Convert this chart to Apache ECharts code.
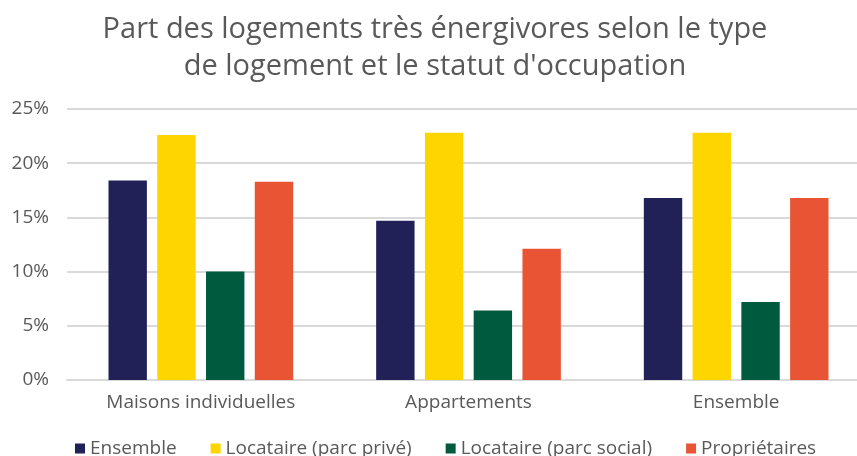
<!DOCTYPE html>
<html>
<head>
<meta charset="utf-8">
<script src="https://cdn.jsdelivr.net/npm/echarts@6/dist/echarts.min.js"></script>
<style>
  html, body { margin: 0; padding: 0; background: #fff; overflow: hidden; }
  #chart { width: 870px; height: 456px; }
</style>
</head>
<body>
<div id="chart"></div>
<script>
const categories = ['Maisons individuelles', 'Appartements', 'Ensemble']
const seriesNames = ['Ensemble', 'Locataire (parc privé)', 'Locataire (parc social)', 'Propriétaires']
const ensemble = [18.4, 14.7, 16.8]
const locatairePrive = [22.6, 22.8, 22.8]
const locataireSocial = [10.0, 6.4, 7.2]
const proprietaires = [18.3, 12.1, 16.8]
const colors = ['#222157', '#FFD500', '#005A3E', '#E95534']

const values = [ensemble, locatairePrive, locataireSocial, proprietaires]
const font = '"Open Sans", sans-serif'
const textColor = '#595959'

// the plot runs past the right edge of the 857px picture, hence the wider div
const chart = echarts.init(document.getElementById('chart'))
chart.setOption({
  animation: false,
  color: colors,
  title: {
    text: 'Part des logements très énergivores selon le type\nde logement et le statut d\'occupation',
    left: 430,
    textAlign: 'center',
    top: 6,
    textStyle: {
      fontFamily: font,
      fontSize: 29,
      fontWeight: 'normal',
      lineHeight: 37,
      color: textColor,
    },
  },
  grid: { left: 67, right: 0, top: 109, bottom: 76 },
  legend: {
    bottom: -7,
    left: 70,
    icon: 'rect',
    itemWidth: 10,
    itemHeight: 10,
    itemGap: 34,
    textStyle: { fontFamily: font, fontSize: 19, color: textColor },
    data: seriesNames,
  },
  xAxis: {
    type: 'category',
    data: categories,
    axisLine: { lineStyle: { color: '#d9d9d9', width: 2 } },
    axisTick: { show: false },
    axisLabel: { fontFamily: font, fontSize: 19, color: textColor, margin: 13 },
  },
  yAxis: {
    type: 'value',
    min: 0,
    max: 25,
    interval: 5,
    axisLine: { show: false },
    axisTick: { show: false },
    splitLine: { lineStyle: { color: '#d9d9d9', width: 2 } },
    axisLabel: { fontFamily: font, fontSize: 19, color: textColor, margin: 18, formatter: '{value}%' },
  },
  series: seriesNames.map((name, i) => ({
    name,
    type: 'bar',
    data: values[i],
    barGap: '27%',
    barCategoryGap: '31%',
  })),
})
</script>
</body>
</html>
